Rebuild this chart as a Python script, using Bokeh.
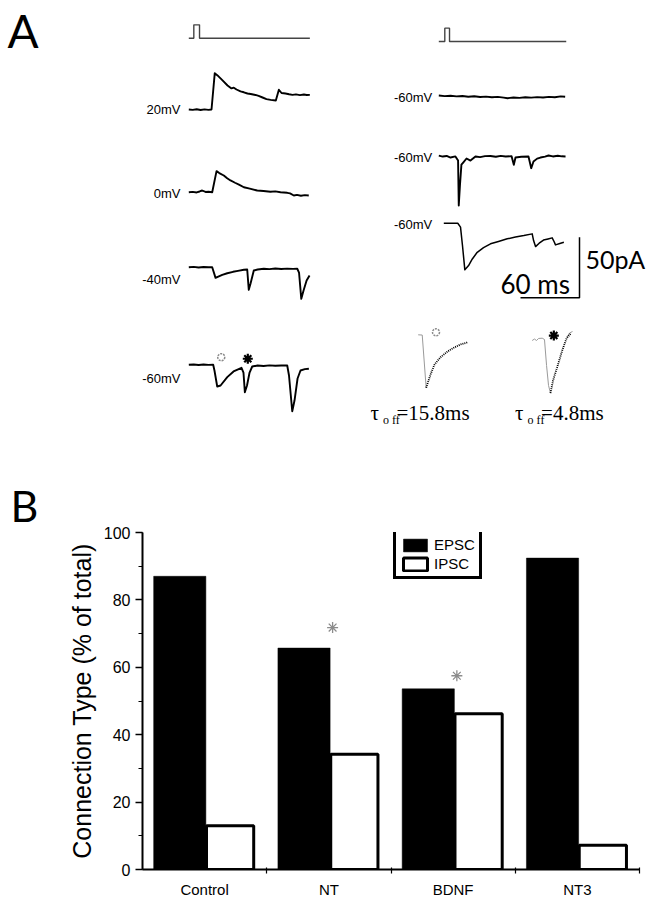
import numpy as np
from bokeh.plotting import figure
from bokeh.models import Range1d, FixedTicker, SingleIntervalTicker, ColumnDataSource
from bokeh.transform import dodge
from bokeh.core.properties import value
from bokeh.embed import file_html
from bokeh.resources import INLINE

# ======================= DATA =======================
# ---- Panel B: connection type (% of total) ----
categories = ["Control", "NT", "BDNF", "NT3"]
epsc_pct = [87.0, 65.7, 53.6, 92.4]
ipsc_pct = [13.0, 34.2, 46.2, 7.2]
sig_categories = ["NT", "BDNF"]          # marked with a grey asterisk
sig_y = [71.8, 57.5]
y_tick_step = 20

# ---- Panel A: recorded currents, time (ms) vs current (pA) relative to trace start ----
hold_left = ["20mV", "0mV", "-40mV", "-60mV"]
hold_right = ["-60mV", "-60mV", "-60mV"]

stim_left_t = [0, 5.1, 5.1, 10.9, 10.9, 123.1]
stim_left_v = [0, 0, 11, 11, 0, 0]
stim_right_t = [0, 6.1, 6.1, 10.9, 10.9, 129.6]
stim_right_v = [0, 0, 11, 11, 0, 0]

t_20 = [0, 4, 8, 12, 16, 20, 23.1, 26.4, 29.2, 34.3, 39.4, 43.4, 45.8, 48.5, 52.6, 56, 59.7, 63,
        67.8, 71, 75, 79, 83.2, 88.5, 91.6, 94.3, 98.4, 102, 105.5, 109, 113, 117, 120, 123.1]
i_20 = [0, -0.3, 0.2, -0.4, 0.1, -0.3, 0, 30, 28.1, 24, 19.8, 17.4, 18.0, 16.5, 14.9, 14.2, 13.2, 12.8,
        12.0, 11.2, 9.9, 8.6, 7.9, 7.4, 16.3, 13.6, 13.2, 12.6, 12.1, 12.5, 11.9, 12.4, 12.0, 12.1]

t_0 = [0, 4, 8, 11, 13.6, 17, 20, 23.8, 28.2, 31, 35.6, 39, 42.4, 47, 51, 56, 62, 69.6, 76, 83, 88,
       93.3, 100.1, 103, 106.8, 110, 114, 118, 122]
i_0 = [0, 0.3, -0.2, 0.6, 1.4, 0.2, 0.4, 0, 17.4, 15.8, 13.8, 11.5, 9.7, 7.8, 6.3, 4.1, 3.0, 1.4, 1.0,
       0.4, 0.7, 0, -0.5, -1.0, -2.7, -2.2, -2.9, -2.4, -2.7]

t_m40 = [0, 5, 10, 15, 20, 23.8, 27.2, 30, 34, 39.1, 45, 50, 56, 59.4, 61, 62.8, 66.1, 70, 76.3, 82,
         88, 94, 100, 106, 110.3, 112.1, 114.4, 116.7, 119.8, 122.8]
i_m40 = [0, 0.3, -0.2, 0.2, -0.1, 0, -8.8, -7.8, -6.3, -5, -3.8, -3.0, -2.1, -1.9, -18.7, -13.5, -2.7,
         -1.9, -1.3, -1.6, -1.1, -1.5, -1.2, -1.4, -1.3, -4.4, -26.1, -19.3, -11, -6.9]

t_m60 = [0, 5, 10, 15, 20, 24.8, 26.1, 28.9, 32.3, 39.1, 45.5, 53.6, 55.6, 57, 59.2, 61.8, 64.5, 70,
         76, 82, 88, 94, 100.1, 101.9, 105.2, 107.5, 110.6, 113.6, 118, 122.1]
i_m60 = [0, 0.3, -0.2, 0.3, -0.1, 0, -4.7, -17.9, -17.1, -10.2, -5.5, -2.5, -6.4, -22.6, -17.1, -6.4,
         -1.4, -0.6, -1.0, -0.5, -0.8, -0.6, -0.6, -8.8, -38.3, -29.5, -11.3, -4.7, -3.6, -3.3]
mark_t_m60 = [33, 60]          # open (slow) and filled (fast) event markers
mark_i_m60 = [6.3, 5.0]

t_r1 = [0, 6, 12, 18, 24, 30, 36, 42, 48, 54, 60, 66, 70, 76, 82, 88, 94, 100, 106, 112, 118, 124, 128.5]
i_r1 = [0.8, 0.3, 0.6, 0.1, 0.4, -0.2, 0.2, -0.4, -0.1, -0.6, -0.3, -0.9, -1.4, -0.8, -1.1, -0.6,
        -0.9, -0.5, -0.8, -0.3, -0.6, 0.1, -0.2]

t_r2 = [0, 4, 8, 11.9, 16.9, 19.6, 20.3, 21.5, 23, 25, 28.2, 32.2, 37.3, 42, 47, 52.5, 58, 63, 68, 74,
        76.3, 78, 84, 91.2, 94, 96.3, 100, 103.4, 108, 111.6, 116, 121, 125, 128.9]
i_r2 = [0.5, -0.3, 0.2, -1.1, -0.2, -3.6, -40.7, -24.2, -6.9, -5, -1.9, -3.6, -0.2, -0.8, 0.1, 0.2,
        -0.5, 0.3, -0.2, 0, -7.1, -1.1, -0.4, -0.2, -9.9, -4.4, -2.0, -1.1, -0.3, 0.6, -0.2, 0.4, -0.1, -0.2]

t_r3 = [0, 14.2, 17, 19, 21.4, 25.2, 29, 34, 40.4, 47.5, 55.6, 64.5, 72.9, 81.4, 89.9, 91.3, 93.3, 97,
        101.4, 106, 110.2, 112.1, 113.6, 118, 122.1]
i_r3 = [0, 0, -3.3, -18.4, -38.5, -35, -29.5, -24, -20.1, -17, -15.1, -12.9, -11.4, -10.2, -8.8, -14.3,
        -19.3, -16.5, -13.9, -13.0, -12.1, -15.1, -17.9, -16.7, -15.7]

# decay fits (grey = recorded, dotted = exponential fit)
raw1_t = [0, 4.1, 8.1]
raw1_i = [0, -0.2, -43.7]
fit1_t = [8.1, 12.5, 16.6, 22.7, 29.8, 36.2, 43, 50.8]
fit1_i = [-43.7, -32.8, -24.5, -18.5, -13.8, -10.7, -8.0, -6.1]
raw2_t = [0, 2.3, 4.4, 6.5, 10.2, 12.5, 14.6, 16.6, 18.6]
raw2_i = [0, 1.2, 0, 1.7, 1.9, 0.8, -20.6, -37.1, -43.4]
raw2_tail_t = [35, 38, 41]
raw2_tail_i = [2.5, 6.2, 7.4]
fit2_t = [18.6, 21.2, 25.4, 30.5, 34.9, 39]
fit2_i = [-43.4, -33, -22, -8.3, 1.7, 5.5]
fit_mark_t = [18.1, 22.0]
fit_mark_i = [2.1, 4.1]
tau_values = ["15.8ms", "4.8ms"]

scale_ms = 60
scale_pa = 50

# ======================= LAYOUT (page pixels) =======================
PX_PER_MS = 59 / 60
PX_PER_PA = 60.6 / 50
W = 654
HA = 476
HB = 424


def X(px):
    return px / PX_PER_MS


def Y(py):
    return (HA - py) / PX_PER_PA


pA = figure(width=W, height=HA, x_range=Range1d(0, W / PX_PER_MS), y_range=Range1d(0, HA / PX_PER_PA),
            output_backend="svg", toolbar_location=None, x_axis_type=None, y_axis_type=None,
            min_border=0, outline_line_color=None)
pA.grid.visible = False

BLACK = "black"


def draw(t, i, x0, y0, **kw):
    pA.line(X(x0) + np.array(t, float), Y(y0) + np.array(i, float), **kw)


def write(px, py, txt, font, size, align="left"):
    pA.text(x=[X(px)], y=[Y(py)], text=[txt], text_font=font, text_font_size=size,
            text_align=align, text_baseline="middle", text_color=BLACK)


# stimulus
draw(stim_left_t, stim_left_v, 188.3, 37.7, line_color="#444444", line_width=1.4)
draw(stim_right_t, stim_right_v, 438.3, 41.0, line_color="#444444", line_width=1.4)

trace_kw = dict(line_color=BLACK, line_width=1.9, line_join="round")
left_traces = [(t_20, i_20), (t_0, i_0), (t_m40, i_m40), (t_m60, i_m60)]
left_base = [109.0, 191.7, 266.7, 364.3]
for (t, i), b in zip(left_traces, left_base):
    draw(t, i, 188.3, b, **trace_kw)

right_traces = [(t_r1, i_r1), (t_r2, i_r2)]
right_base = [96.0, 155.7]
for (t, i), b in zip(right_traces, right_base):
    draw(t, i, 438.3, b, **trace_kw)
draw(t_r3, i_r3, 443.3, 222.7, line_color=BLACK, line_width=1.5, line_join="round")

# holding potential labels
lab_font = value("Liberation Sans")
pA.text(x=[X(180)] * 4, y=[Y(v) for v in [109, 193, 279, 378]], text=hold_left,
        text_align="right", text_baseline="middle", text_font=lab_font, text_font_size="13px",
        text_color=BLACK)
pA.text(x=[X(431.7)] * 3, y=[Y(v) for v in [97, 156.7, 224.3]], text=hold_right,
        text_align="right", text_baseline="middle", text_font=lab_font, text_font_size="13px",
        text_color=BLACK)

# event markers on -60 mV trace
mx = X(188.3) + np.array(mark_t_m60)
my = Y(364.3) + np.array(mark_i_m60)
pA.scatter(x=mx[:1], y=my[:1], marker="circle", size=7, fill_color=None, line_color="#8a8a8a",
           line_width=1.5, line_dash="2 1")
pA.scatter(x=mx[1:], y=my[1:], marker="asterisk", size=10, line_color=BLACK, line_width=2.2)

# decay fits
draw(raw1_t, raw1_i, 417.7, 334.3, line_color="#9a9a9a", line_width=1)
draw(fit1_t, fit1_i, 417.7, 334.3, line_color=BLACK, line_width=1.8, line_dash="1 1")
draw(raw2_t, raw2_i, 531.7, 340.0, line_color="#9a9a9a", line_width=1)
draw(raw2_tail_t, raw2_tail_i, 531.7, 340.0, line_color="#9a9a9a", line_width=1)
draw(fit2_t, fit2_i, 531.7, 340.0, line_color=BLACK, line_width=1.8, line_dash="1 1")
pA.scatter(x=[X(417.7) + fit_mark_t[0]], y=[Y(334.3) + fit_mark_i[0]], marker="circle", size=7,
           fill_color=None, line_color="#8a8a8a", line_width=1.5, line_dash="2 1")
pA.scatter(x=[X(531.7) + fit_mark_t[1]], y=[Y(340.0) + fit_mark_i[1]], marker="asterisk", size=10,
           line_color=BLACK, line_width=2.2)

serif = value("Liberation Serif")
tau_x = [370, 514.6]
for k, tv in enumerate(tau_values):
    x0 = tau_x[k]
    write(x0, 412.0, "τ", serif, "21px")
    write(x0 + 12.5, 419.0, "o ff", serif, "12px")
    write(x0 + 26, 412.0, "=" + tv, serif, "21px")

# scale bar
cx, cy = X(579), Y(297.3)
pA.line([cx - scale_ms, cx, cx], [cy, cy, cy + scale_pa], line_color=BLACK, line_width=1.5)
sb_font = value("Lato")
write(500, 283.0, f"{scale_ms} ms", sb_font, "26px")
write(585, 258.0, f"{scale_pa}pA", sb_font, "25px")

# panel letter A
write(7, 29.7, "A", sb_font, "46px")

# ======================= PANEL B =======================
sans = "Liberation Sans"
xc = list(range(1, len(categories) + 1))
src = ColumnDataSource(dict(x=xc, cat=categories, epsc=epsc_pct, ipsc=ipsc_pct))

B_LEFT, B_RIGHT, B_TOP, B_BOTTOM = 142, 15, 56, 30
pB = figure(width=W, height=HB, x_range=Range1d(0.5, len(categories) + 0.5), y_range=Range1d(0, 100),
            output_backend="svg", toolbar_location=None, title="B",
            min_border_left=B_LEFT, min_border_right=B_RIGHT, min_border_top=B_TOP,
            min_border_bottom=B_BOTTOM, outline_line_color=None)
pB.grid.visible = False
pB.title.text_font = "Lato"
pB.title.text_font_size = "43px"
pB.title.text_font_style = "normal"
pB.title.text_color = BLACK
pB.title.align = "left"
pB.title.offset = 10 - B_LEFT
pB.title.standoff = 0
pB.title.vertical_align = "top"

pB.vbar(x=dodge("x", -0.2), top="epsc", width=0.42, source=src, fill_color=BLACK, line_color=BLACK,
        line_width=0.5, legend_label="EPSC")
pB.vbar(x=dodge("x", 0.205), top="ipsc", width=0.38, source=src, fill_color="white", line_color=BLACK,
        line_width=3, legend_label="IPSC")

sig_x = [xc[categories.index(c)] for c in sig_categories]
pB.scatter(x=dodge("x", 0.03), y="y", source=ColumnDataSource(dict(x=sig_x, y=sig_y)), marker="asterisk",
           size=11, line_color="#8c8c8c", line_width=1.3)

yax = pB.yaxis[0]
yax.ticker = SingleIntervalTicker(interval=y_tick_step, num_minor_ticks=2)
yax.major_tick_out = 7
yax.major_tick_in = 0
yax.minor_tick_out = 4
yax.minor_tick_in = 0
yax.major_tick_line_width = 1.5
yax.minor_tick_line_width = 1.2
yax.axis_line_width = 2
yax.major_label_standoff = 5
yax.major_label_text_font = sans
yax.major_label_text_font_size = "16px"
yax.major_label_text_color = BLACK
yax.axis_label = "Connection Type (% of total)"
yax.axis_label_text_font = sans
yax.axis_label_text_font_style = "normal"
yax.axis_label_text_font_size = "25px"
yax.axis_label_text_color = BLACK
yax.axis_label_standoff = 5

xax = pB.xaxis[0]
xax.ticker = FixedTicker(ticks=xc, minor_ticks=[v + 0.5 for v in xc])
xax.major_label_overrides = {v: c for v, c in zip(xc, categories)}
xax.major_tick_out = 0
xax.major_tick_in = 0
xax.minor_tick_out = 4
xax.minor_tick_in = 2
xax.minor_tick_line_width = 1.2
xax.axis_line_width = 2
xax.major_label_standoff = 7
xax.major_label_text_font = sans
xax.major_label_text_font_size = "15px"
xax.major_label_text_color = BLACK

leg = pB.legend[0]
leg.location = (251, 290)
leg.border_line_color = BLACK
leg.border_line_width = 3
leg.border_line_alpha = 1
leg.padding = 4
leg.spacing = 2
leg.margin = 0
leg.glyph_width = 30
leg.glyph_height = 16
leg.label_height = 16
leg.label_width = 40
leg.label_standoff = 4
leg.label_text_font = sans
leg.label_text_font_size = "15px"
leg.label_text_color = BLACK
leg.background_fill_alpha = 1

open("out.html", "w").write(file_html([pA, pB], INLINE))
